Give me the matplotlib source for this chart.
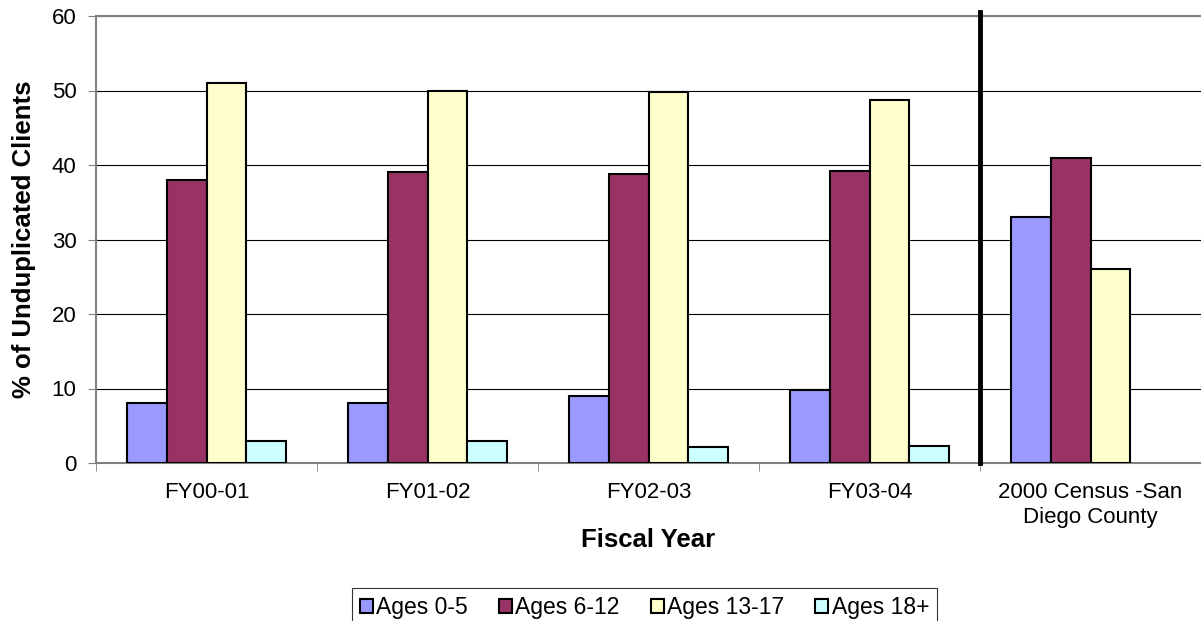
import matplotlib
matplotlib.use("Agg")
import matplotlib.pyplot as plt
import numpy as np

plt.rcParams['font.family'] = ['Liberation Sans', 'DejaVu Sans']

categories = ["FY00-01", "FY01-02", "FY02-03", "FY03-04", "2000 Census -San\nDiego County"]
series_names = ["Ages 0-5", "Ages 6-12", "Ages 13-17", "Ages 18+"]
ages_0_5 = [8, 8, 9, 9.8, 33]
ages_6_12 = [38, 39, 38.8, 39.2, 41]
ages_13_17 = [51, 50, 49.8, 48.7, 26]
ages_18_plus = [3, 3, 2.2, 2.3, np.nan]
colors = ["#9999ff", "#993366", "#ffffcc", "#ccffff"]

fig = plt.figure(figsize=(12.01, 6.21), dpi=100)
ax = fig.add_axes([96 / 1201, 1 - 463 / 621, 1105 / 1201, (463 - 16) / 621])

x = np.arange(len(categories))
w = 0.18
series = [ages_0_5, ages_6_12, ages_13_17, ages_18_plus]
for i, (vals, name, c) in enumerate(zip(series, series_names, colors)):
    ax.bar(x + (i - 1.5) * w, vals, w, color=c, edgecolor="black", linewidth=1.5,
           label=name, zorder=3)

ax.set_ylim(0, 60)
ax.set_xlim(-0.5, 4.478)
ax.set_yticks(range(0, 61, 10))
ax.yaxis.grid(True, color="black", linewidth=0.8, zorder=0)
ax.tick_params(axis="y", labelsize=16, length=6, pad=8, color="gray", direction="out")

# category labels centered, ticks at boundaries
ax.set_xticks(x)
ax.set_xticklabels(categories, fontsize=16)
ax.tick_params(axis="x", length=0, pad=14)
ax.set_xticks(np.arange(-0.5, 4.6, 1), minor=True)
ax.tick_params(axis="x", which="minor", length=6, color="gray")

for s in ["left", "bottom", "top"]:
    ax.spines[s].set_color("gray")
    ax.spines[s].set_linewidth(1.5)
ax.spines["right"].set_visible(False)

# separator between fiscal years and census
ax.axvline(3.5, ymin=0, ymax=1.008, color="black", linewidth=3.5, zorder=4, clip_on=False)

ax.set_ylabel("% of Unduplicated Clients", fontsize=18.5, fontweight="bold")
ax.yaxis.set_label_coords(-0.065, 0.5)
ax.yaxis.label.set_va("center")
ax.set_xlabel("Fiscal Year", fontsize=18.5, fontweight="bold")
ax.xaxis.set_label_coords(0.5, (463 - 547) / 447)
ax.xaxis.label.set_va("baseline")

leg = fig.legend(loc="upper center", bbox_to_anchor=(644.5 / 1201, 1 - 588 / 621), ncol=4,
                 fontsize=16.5, frameon=True, fancybox=False, edgecolor="black",
                 handlelength=0.57, handleheight=0.57, handletextpad=0.15,
                 columnspacing=1.35, borderpad=0.35, borderaxespad=0)
leg.get_frame().set_linewidth(0.8)

fig.savefig("out.png", dpi=100)
